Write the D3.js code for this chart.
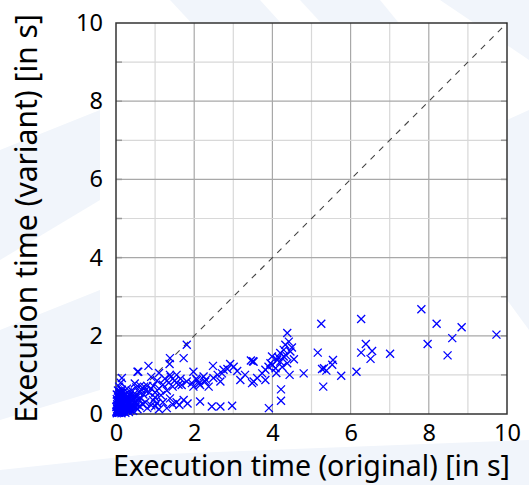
<!DOCTYPE html>
<html>
<head>
<meta charset="utf-8">
<script src="https://cdn.jsdelivr.net/npm/d3@7"></script>
<style>
  html, body { margin: 0; padding: 0; background: #fff; }
  svg { display: block; font-family: "Noto Sans", "Open Sans", sans-serif; }
</style>
</head>
<body>
<svg id="chart" width="529" height="485"></svg>
<script>
// execution times in seconds
var origTimes = [
  0.02,0.05,0.08,0.10,0.12,0.15,0.18,0.20,0.22,0.25,0.28,0.30,0.32,0.35,0.38,0.40,0.42,0.45,0.48,0.50,
  0.03,0.06,0.09,0.04,0.07,0.10,0.13,0.16,0.19,0.12,0.05,0.02,0.08,0.15,0.22,0.25,0.30,0.35,0.28,0.40,
  0.45,0.55,0.60,0.58,0.65,0.70,0.72,0.62,0.52,0.48,0.75,0.80,0.85,0.90,0.02,0.01,0.03,0.14,0.24,0.33,
  0.44,0.55,0.60,0.68,0.75,0.80,0.90,0.95,1.00,1.05,0.12,0.15,0.55,0.83,0.57,
  0.01,0.03,0.06,0.09,0.11,0.14,0.17,0.21,0.24,0.27,0.31,0.34,0.37,0.41,0.04,0.07,0.11,0.16,0.20,0.26,
  0.29,0.36,0.43,0.50,0.06,0.10,0.18,0.23,0.33,0.39,0.02,0.09,0.13,0.27,0.46,0.53,0.64,0.18,0.08,0.36,
  0.95,1.00,1.05,1.10,1.15,1.20,1.25,1.30,1.35,1.40,1.45,1.50,1.55,1.60,1.65,1.00,1.10,1.20,1.30,1.38,
  1.45,1.55,1.62,1.73,1.83,2.15,2.45,2.67,2.97,1.38,1.37,1.38,1.81,1.73,1.10,0.90,
  1.98,1.81,1.94,2.07,2.15,2.28,2.37,1.98,1.68,2.24,2.49,2.67,2.48,2.71,2.75,2.92,3.01,3.18,3.48,3.45,
  3.50,2.05,2.12,2.30,2.60,2.85,3.10,3.30,
  3.52,3.61,3.52,3.74,3.82,3.82,3.90,3.95,3.99,4.08,4.12,4.20,4.20,4.29,4.29,4.33,4.38,4.42,4.44,4.46,
  4.55,4.38,4.22,4.22,3.91,4.80,4.00,4.15,4.25,4.35,4.50,4.10,
  5.25,5.16,5.30,5.32,5.38,5.27,5.55,5.53,5.76,6.15,6.27,6.39,6.27,6.55,6.51,7.01,7.81,8.20,8.84,9.73,
  8.60,7.97,8.48
];
var variantTimes = [
  0.02,0.04,0.03,0.08,0.05,0.10,0.06,0.12,0.15,0.10,0.20,0.14,0.25,0.18,0.30,0.22,0.35,0.28,0.40,0.32,
  0.12,0.20,0.15,0.30,0.42,0.35,0.25,0.45,0.38,0.55,0.60,0.50,0.70,0.62,0.50,0.42,0.55,0.48,0.65,0.60,
  0.50,0.45,0.55,0.38,0.62,0.50,0.70,0.72,0.68,0.78,0.60,0.72,0.55,0.65,0.08,0.18,0.25,0.02,0.03,0.05,
  0.08,0.12,0.20,0.25,0.30,0.15,0.22,0.35,0.42,0.28,0.80,0.92,1.08,1.23,1.08,
  0.05,0.07,0.10,0.04,0.18,0.08,0.22,0.06,0.18,0.28,0.09,0.30,0.12,0.16,0.35,0.28,0.40,0.30,0.26,0.35,
  0.44,0.38,0.20,0.18,0.48,0.52,0.40,0.30,0.42,0.24,0.38,0.26,0.33,0.14,0.44,0.24,0.40,0.56,0.58,0.10,
  0.72,0.55,0.85,0.65,0.48,0.75,0.90,0.60,0.80,0.95,0.70,0.85,1.00,0.75,0.90,0.20,0.12,0.30,0.15,0.40,
  0.25,0.30,0.23,0.36,0.27,0.32,0.19,0.19,0.21,1.00,1.28,1.43,1.77,1.43,1.05,0.95,
  1.08,0.83,0.79,0.87,0.74,0.83,0.70,0.70,0.74,0.96,0.92,0.83,1.23,1.04,1.13,1.28,1.21,0.87,0.79,1.37,
  1.35,0.90,0.78,0.88,1.00,1.15,1.10,1.00,
  1.34,0.92,0.83,1.04,1.13,0.87,1.21,1.30,1.47,1.17,1.38,1.56,1.34,1.64,1.47,1.77,1.30,1.85,1.00,1.60,
  1.40,2.07,0.63,0.34,0.15,1.04,1.25,1.45,1.20,1.50,1.70,1.05,
  2.31,1.57,0.70,1.17,1.11,1.15,1.38,1.26,0.98,1.08,2.43,1.79,1.57,1.61,1.41,1.54,2.68,2.31,2.22,2.03,
  1.94,1.79,1.50
];
var tickValues = [0, 2, 4, 6, 8, 10];
var gridValues = [1, 2, 3, 4, 5, 6, 7, 8, 9];

var svg = d3.select('#chart');
var width = 529, height = 485;
var margin = { top: 23, right: 22, bottom: 71, left: 116 };
var plotW = width - margin.left - margin.right;
var plotH = height - margin.top - margin.bottom;

// faint watermark bands in the background
var bg = svg.append('g').attr('fill', '#f1f5fb');
bg.append('polygon').attr('points', '170,0 260,0 360,110 300,140');
bg.append('polygon').attr('points', '300,0 380,0 470,110 420,130');
bg.append('polygon').attr('points', '440,0 529,0 529,60');
bg.append('polygon').attr('points', '0,150 100,110 100,200 0,260');
bg.append('polygon').attr('points', '0,330 100,290 100,390 0,420');
bg.append('polygon').attr('points', '507,120 529,110 529,330 507,300');
bg.append('polygon').attr('points', '0,470 140,455 529,440 529,485 0,485');

var x = d3.scaleLinear().domain([0, 10]).range([margin.left, margin.left + plotW]);
var y = d3.scaleLinear().domain([0, 10]).range([margin.top + plotH, margin.top]);

svg.append('rect')
  .attr('x', margin.left).attr('y', margin.top)
  .attr('width', plotW).attr('height', plotH)
  .attr('fill', '#fff');

// grid: even values darker than odd ones
var grid = svg.append('g').attr('class', 'grid');
grid.selectAll('line.vx')
  .data(gridValues)
  .enter().append('line')
  .attr('x1', function (d) { return x(d); })
  .attr('x2', function (d) { return x(d); })
  .attr('y1', y(0)).attr('y2', y(10))
  .attr('stroke', function (d) { return d % 2 === 0 ? '#a8a8a8' : '#d8d8d8'; })
  .attr('stroke-width', 1.2);
grid.selectAll('line.hy')
  .data(gridValues)
  .enter().append('line')
  .attr('y1', function (d) { return y(d); })
  .attr('y2', function (d) { return y(d); })
  .attr('x1', x(0)).attr('x2', x(10))
  .attr('stroke', function (d) { return d % 2 === 0 ? '#a8a8a8' : '#d8d8d8'; })
  .attr('stroke-width', 1.2);

// small inward ticks on left and right edges
var tk = svg.append('g').attr('stroke', '#999').attr('stroke-width', 1.5);
gridValues.forEach(function (d) {
  tk.append('line').attr('x1', x(0)).attr('x2', x(0) + 6).attr('y1', y(d)).attr('y2', y(d));
  tk.append('line').attr('x1', x(10)).attr('x2', x(10) - 6).attr('y1', y(d)).attr('y2', y(d));
});

// y = x reference line
svg.append('line')
  .attr('x1', x(0)).attr('y1', y(0))
  .attr('x2', x(10)).attr('y2', y(10))
  .attr('stroke', '#444')
  .attr('stroke-width', 1.1)
  .attr('stroke-dasharray', '6,6');

// frame
svg.append('rect')
  .attr('x', margin.left).attr('y', margin.top)
  .attr('width', plotW).attr('height', plotH)
  .attr('fill', 'none')
  .attr('stroke', '#333')
  .attr('stroke-width', 1.5);

// cross markers
var pts = origTimes.map(function (v, i) { return { o: v, v: variantTimes[i] }; });
var s = 4;
svg.append('g')
  .selectAll('path')
  .data(pts)
  .enter().append('path')
  .attr('d', function (d) {
    var cx = x(d.o), cy = y(d.v);
    return 'M' + (cx - s) + ',' + (cy - s) + 'L' + (cx + s) + ',' + (cy + s) +
           'M' + (cx - s) + ',' + (cy + s) + 'L' + (cx + s) + ',' + (cy - s);
  })
  .attr('stroke', '#0000ff')
  .attr('stroke-width', 1.3)
  .attr('fill', 'none');

// axes (labels only)
var xAxis = svg.append('g')
  .attr('transform', 'translate(0,' + (margin.top + plotH) + ')')
  .call(d3.axisBottom(x).tickValues(tickValues).tickSize(0).tickPadding(10).tickFormat(d3.format('d')));
var yAxis = svg.append('g')
  .attr('transform', 'translate(' + margin.left + ',0)')
  .call(d3.axisLeft(y).tickValues(tickValues).tickSize(0).tickPadding(13).tickFormat(d3.format('d')));
[xAxis, yAxis].forEach(function (a) {
  a.select('.domain').remove();
  a.selectAll('text')
    .attr('font-family', '"Noto Sans", "Open Sans", sans-serif')
    .attr('font-size', 23.5)
    .attr('fill', '#000');
});

svg.append('text')
  .attr('x', margin.left + plotW / 2)
  .attr('y', 476)
  .attr('text-anchor', 'middle')
  .attr('font-size', 28.5)
  .attr('fill', '#000')
  .text('Execution time (original) [in s]');

svg.append('text')
  .attr('transform', 'translate(37,' + (margin.top + plotH / 2) + ') rotate(-90)')
  .attr('text-anchor', 'middle')
  .attr('font-size', 30)
  .attr('fill', '#000')
  .text('Execution time (variant) [in s]');
</script>
</body>
</html>
